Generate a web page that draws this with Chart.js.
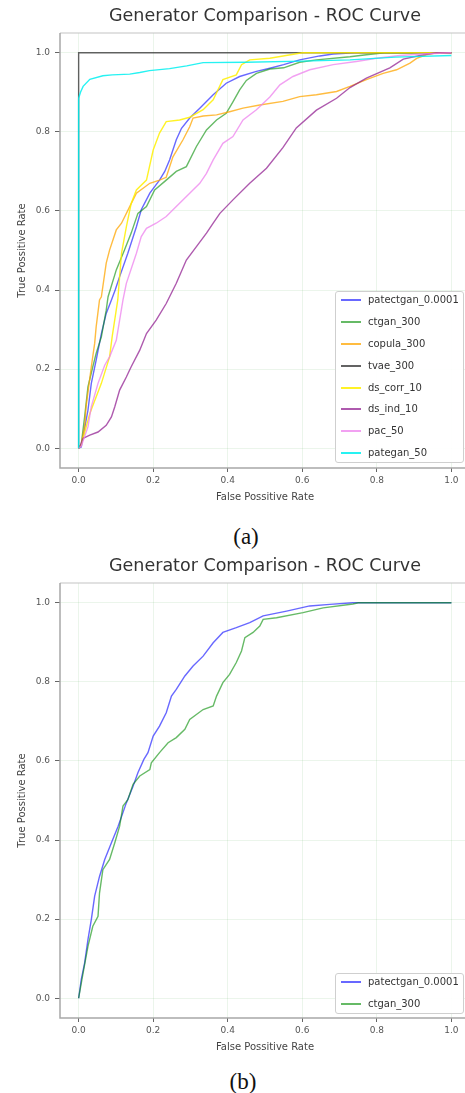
<!DOCTYPE html>
<html>
<head>
<meta charset="utf-8">
<script src="https://cdn.jsdelivr.net/npm/chart.js@4.4.1/dist/chart.umd.min.js"></script>
<style>
html,body{margin:0;padding:0;background:#fff;}
body{width:465px;height:1093px;overflow:hidden;position:relative;font-family:"DejaVu Sans",sans-serif;}
.chartbox{position:absolute;left:0;width:530px;height:508px;}
.legend{position:absolute;left:335px;width:129px;background:rgba(255,255,255,0.92);border:1px solid #cfcfcf;border-radius:3px;box-sizing:border-box;}
.legrow{position:absolute;left:0;height:14px;line-height:14px;font-size:10px;color:#333;white-space:nowrap;}
.legline{position:absolute;left:5px;top:6px;width:20px;height:2px;}
.legtext{position:absolute;left:32px;top:0;}
.caption{position:absolute;height:26px;line-height:26px;font-family:"Liberation Serif","Times New Roman",serif;font-size:23px;color:#111;transform:translateX(-50%);white-space:nowrap;}
</style>
</head>
<body>
<div class="chartbox" style="top:0"><canvas id="chartA" width="530" height="508"></canvas></div>
<div class="chartbox" style="top:550px"><canvas id="chartB" width="530" height="508"></canvas></div>
<div class="legend" id="legendA" style="top:291px;height:172px"></div>
<div class="legend" id="legendB" style="top:973px;height:41px"></div>
<div class="caption" style="left:246px;top:524px">(a)</div>
<div class="caption" style="left:243px;top:1069px">(b)</div>
<script>
// ---- data ----
const chartTitle = 'Generator Comparison - ROC Curve';
const xAxisTitle = 'False Possitive Rate';
const yAxisTitle = 'True Possitive Rate';
const xTicks = [0, 0.2, 0.4, 0.6, 0.8, 1.0];
const yTicks = [0, 0.2, 0.4, 0.6, 0.8, 1.0];
const namesA = ['patectgan_0.0001','ctgan_300','copula_300','tvae_300','ds_corr_10','ds_ind_10','pac_50','pategan_50'];
const namesB = ['patectgan_0.0001','ctgan_300'];

// [FPR, TPR] pairs
const patectganA = [[0,0],[0.007,0.003],[0.016,0.05],[0.025,0.096],[0.034,0.164],[0.047,0.223],[0.061,0.29],[0.074,0.341],[0.088,0.375],[0.098,0.40],[0.11,0.434],[0.132,0.493],[0.155,0.56],[0.168,0.603],[0.191,0.645],[0.217,0.678],[0.231,0.70],[0.244,0.729],[0.262,0.78],[0.276,0.809],[0.298,0.835],[0.325,0.86],[0.361,0.894],[0.396,0.923],[0.432,0.94],[0.477,0.953],[0.513,0.961],[0.55,0.97],[0.593,0.982],[0.647,0.992],[0.683,0.997],[0.74,1.0],[1,1]];
const ctganA = [[0,0],[0.007,0.01],[0.016,0.079],[0.025,0.155],[0.038,0.206],[0.047,0.24],[0.061,0.282],[0.074,0.349],[0.079,0.383],[0.101,0.451],[0.123,0.501],[0.141,0.544],[0.159,0.594],[0.182,0.611],[0.204,0.653],[0.235,0.678],[0.262,0.70],[0.289,0.712],[0.316,0.763],[0.343,0.805],[0.37,0.83],[0.396,0.847],[0.414,0.876],[0.432,0.906],[0.45,0.93],[0.477,0.948],[0.513,0.959],[0.55,0.962],[0.593,0.976],[0.638,0.982],[0.728,0.99],[0.772,0.995],[0.82,1.0],[1,1]];
const copulaA = [[0,0],[0.007,0.01],[0.016,0.054],[0.02,0.105],[0.034,0.206],[0.043,0.265],[0.047,0.307],[0.056,0.375],[0.061,0.383],[0.074,0.468],[0.083,0.501],[0.101,0.552],[0.115,0.569],[0.137,0.611],[0.155,0.645],[0.191,0.67],[0.217,0.678],[0.235,0.685],[0.253,0.737],[0.28,0.78],[0.298,0.813],[0.307,0.835],[0.334,0.84],[0.37,0.843],[0.405,0.851],[0.441,0.86],[0.486,0.868],[0.548,0.877],[0.593,0.889],[0.638,0.894],[0.692,0.902],[0.728,0.915],[0.772,0.932],[0.817,0.948],[0.853,0.957],[0.889,0.974],[0.907,0.986],[0.933,0.995],[0.96,1.0],[1,1]];
const tvaeA = [[0,0],[0,1],[1,1]];
const dsCorrA = [[0,0],[0.007,0.008],[0.03,0.088],[0.061,0.164],[0.083,0.231],[0.09,0.282],[0.105,0.375],[0.115,0.493],[0.128,0.56],[0.141,0.619],[0.155,0.653],[0.182,0.678],[0.2,0.754],[0.217,0.797],[0.235,0.826],[0.271,0.83],[0.298,0.837],[0.334,0.856],[0.361,0.881],[0.387,0.932],[0.423,0.944],[0.437,0.97],[0.459,0.982],[0.513,0.986],[0.6,1.0],[1,1]];
const dsIndA = [[0,0],[0.003,0.003],[0.012,0.025],[0.03,0.033],[0.052,0.041],[0.074,0.058],[0.088,0.079],[0.097,0.105],[0.11,0.147],[0.128,0.18],[0.141,0.206],[0.164,0.248],[0.182,0.29],[0.208,0.324],[0.235,0.366],[0.262,0.417],[0.289,0.476],[0.316,0.51],[0.343,0.544],[0.361,0.569],[0.379,0.594],[0.414,0.628],[0.459,0.67],[0.504,0.708],[0.548,0.76],[0.584,0.81],[0.638,0.855],[0.692,0.885],[0.728,0.912],[0.772,0.936],[0.835,0.962],[0.871,0.984],[0.925,0.995],[0.96,1.0],[1,1]];
const pacA = [[0,0],[0.007,0.005],[0.025,0.054],[0.034,0.105],[0.052,0.164],[0.07,0.21],[0.083,0.231],[0.101,0.273],[0.11,0.324],[0.119,0.375],[0.128,0.417],[0.155,0.493],[0.168,0.535],[0.182,0.556],[0.208,0.569],[0.235,0.586],[0.262,0.611],[0.298,0.645],[0.325,0.67],[0.343,0.695],[0.361,0.729],[0.387,0.771],[0.414,0.788],[0.441,0.83],[0.477,0.856],[0.513,0.888],[0.54,0.919],[0.575,0.94],[0.62,0.957],[0.683,0.97],[0.745,0.978],[0.799,0.986],[0.862,0.993],[0.923,0.997],[1,1]];
const pateganA = [[0,0],[0,0.885],[0.005,0.9],[0.012,0.915],[0.03,0.933],[0.065,0.942],[0.09,0.944],[0.137,0.946],[0.164,0.95],[0.19,0.955],[0.244,0.96],[0.29,0.967],[0.334,0.975],[0.45,0.976],[0.6,0.979],[0.728,0.982],[0.85,0.989],[1,0.993]];

const patectganB = [[0,0],[0.007,0.047],[0.016,0.089],[0.025,0.148],[0.034,0.199],[0.043,0.258],[0.056,0.308],[0.07,0.351],[0.088,0.393],[0.106,0.435],[0.128,0.494],[0.146,0.536],[0.159,0.57],[0.175,0.604],[0.186,0.621],[0.2,0.663],[0.217,0.688],[0.235,0.722],[0.249,0.764],[0.262,0.781],[0.285,0.815],[0.307,0.84],[0.334,0.865],[0.361,0.899],[0.387,0.925],[0.423,0.937],[0.459,0.95],[0.495,0.967],[0.558,0.979],[0.62,0.992],[0.674,0.996],[0.736,1.0],[1,1]];
const ctganB = [[0,0],[0.012,0.064],[0.025,0.131],[0.038,0.182],[0.052,0.207],[0.056,0.266],[0.065,0.325],[0.083,0.351],[0.097,0.393],[0.11,0.435],[0.119,0.486],[0.132,0.502],[0.146,0.541],[0.164,0.562],[0.191,0.578],[0.195,0.595],[0.217,0.621],[0.24,0.646],[0.262,0.659],[0.285,0.68],[0.298,0.705],[0.334,0.73],[0.361,0.739],[0.37,0.764],[0.387,0.798],[0.405,0.819],[0.423,0.849],[0.437,0.878],[0.446,0.912],[0.468,0.925],[0.486,0.941],[0.495,0.958],[0.531,0.962],[0.602,0.975],[0.656,0.987],[0.736,0.997],[0.75,1.0],[1,1]];

// ---- styles ----
const seriesColors = {
  'patectgan_0.0001':'rgba(40,40,255,0.7)',
  'ctgan_300':'rgba(0,140,0,0.6)',
  'copula_300':'rgba(255,165,0,0.75)',
  'tvae_300':'rgba(60,60,60,0.8)',
  'ds_corr_10':'rgba(255,240,0,0.85)',
  'ds_ind_10':'rgba(140,20,140,0.7)',
  'pac_50':'rgba(238,130,238,0.75)',
  'pategan_50':'rgba(0,240,240,0.85)'
};
const FONT = '"DejaVu Sans", sans-serif';

const framePlugin = {
  id:'frame',
  afterDatasetsDraw(chart){
    const {ctx, chartArea:a} = chart;
    ctx.save();
    ctx.strokeStyle = '#c4c4c4';
    ctx.lineWidth = 1.2;
    ctx.beginPath();
    ctx.moveTo(a.left, a.top); ctx.lineTo(a.right, a.top); ctx.lineTo(a.right, a.bottom);
    ctx.stroke();
    ctx.strokeStyle = '#a8a8a8';
    ctx.lineWidth = 1.5;
    ctx.beginPath();
    ctx.moveTo(a.left, a.top); ctx.lineTo(a.left, a.bottom); ctx.lineTo(a.right, a.bottom);
    ctx.stroke();
    ctx.restore();
  }
};

function makeChart(id, names, seriesData){
  const datasets = names.map((n,i)=>({
    label:n,
    data: seriesData[i].map(p=>({x:p[0], y:p[1]})),
    showLine:true, borderColor:seriesColors[n], backgroundColor:seriesColors[n],
    borderWidth:1.4, pointRadius:0, fill:false, tension:0,
    order: names.length - i
  }));
  const tickFont = {family:FONT, size:9};
  return new Chart(document.getElementById(id), {
    type:'scatter',
    data:{datasets},
    options:{
      responsive:false, animation:false, devicePixelRatio:1,
      layout:{padding:{left:0, right:60, top:0, bottom:0}},
      plugins:{
        legend:{display:false}, tooltip:{enabled:false},
        title:{display:true, fullSize:false, text:chartTitle, color:'#333',
          font:{family:FONT, size:17.5, weight:'normal', lineHeight:1.2}, padding:{top:6, bottom:6}}
      },
      scales:{
        x:{type:'linear', min:-0.05, max:1.05,
          afterBuildTicks:s=>{ s.ticks = xTicks.map(v=>({value:v})); },
          afterFit:s=>{ s.height = 40; },
          ticks:{callback:v=>Number(v).toFixed(1), font:tickFont, color:'#555', padding:3, maxRotation:0, autoSkip:false},
          grid:{color:'rgba(0,130,0,0.08)', lineWidth:1, tickColor:'#666', tickLength:4},
          border:{display:false},
          title:{display:true, text:xAxisTitle, color:'#444', font:{family:FONT, size:10}, padding:{top:0, bottom:5}}
        },
        y:{type:'linear', min:-0.05, max:1.05,
          afterBuildTicks:s=>{ s.ticks = yTicks.map(v=>({value:v})); },
          afterFit:s=>{ s.width = 60; },
          ticks:{callback:v=>Number(v).toFixed(1), font:tickFont, color:'#555', padding:5},
          grid:{color:'rgba(0,130,0,0.08)', lineWidth:1, tickColor:'#666', tickLength:5},
          border:{display:false},
          title:{display:true, text:yAxisTitle, color:'#444', font:{family:FONT, size:10}, padding:{top:16, bottom:0}}
        }
      }
    },
    plugins:[framePlugin]
  });
}

function makeLegend(id, names, firstOffset, step){
  const box = document.getElementById(id);
  names.forEach((n,i)=>{
    const row = document.createElement('div');
    row.className = 'legrow';
    row.style.top = (firstOffset + step*i - 7) + 'px';
    const ln = document.createElement('span');
    ln.className = 'legline';
    ln.style.background = seriesColors[n];
    const tx = document.createElement('span');
    tx.className = 'legtext';
    tx.textContent = n;
    row.appendChild(ln); row.appendChild(tx);
    box.appendChild(row);
  });
}

makeChart('chartA', namesA, [patectganA, ctganA, copulaA, tvaeA, dsCorrA, dsIndA, pacA, pateganA]);
makeChart('chartB', namesB, [patectganB, ctganB]);
makeLegend('legendA', namesA, 8.3, 21.8);
makeLegend('legendB', namesB, 8.4, 21.6);
</script>
</body>
</html>
